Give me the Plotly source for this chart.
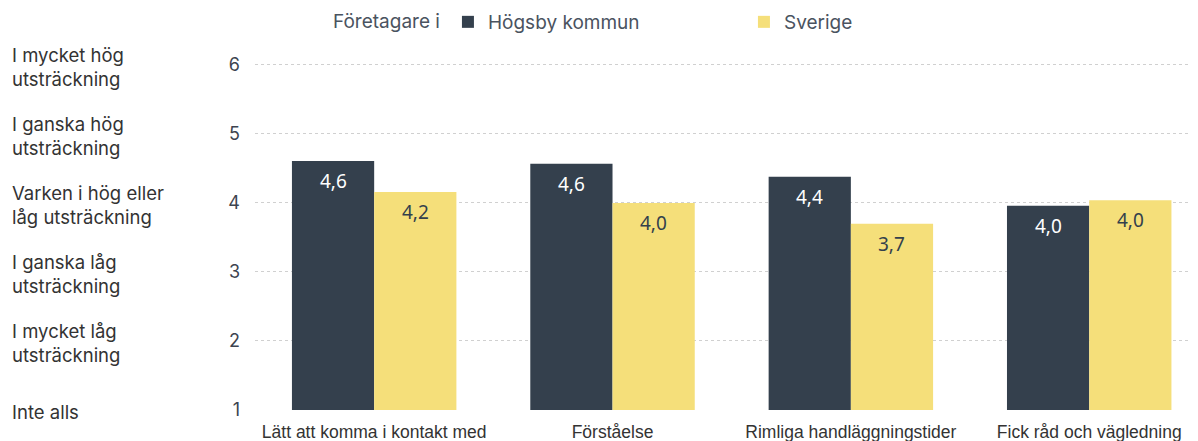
import plotly.graph_objects as go

categories = ["Lätt att komma i kontakt med", "Förståelse", "Rimliga handläggningstider", "Fick råd och vägledning"]
hogsby = [4.61, 4.57, 4.38, 3.96]
sverige = [4.16, 4.0, 3.70, 4.04]
hogsby_labels = ["4,6", "4,6", "4,4", "4,0"]
sverige_labels = ["4,2", "4,0", "3,7", "4,0"]
scale_values = [6, 5, 4, 3, 2, 1]
scale_labels = ["I mycket hög<br>utsträckning", "I ganska hög<br>utsträckning",
                "Varken i hög eller<br>låg utsträckning", "I ganska låg<br>utsträckning",
                "I mycket låg<br>utsträckning", "Inte alls"]

DARK = "#34404d"
YELLOW = "#f5df7a"
W, H = 1198, 441
ML, MR, MT, MB = 247, 0, 42, 39
PW = W - ML - MR

fig = go.Figure()
fig.add_trace(go.Bar(x=categories, y=hogsby, name="Högsby kommun", marker_color=DARK,
                     marker_line_width=0))
fig.add_trace(go.Bar(x=categories, y=sverige, name="Sverige", marker_color=YELLOW,
                     marker_line_width=0))

annotations = []
bargap = 0.31
half = (1 - bargap) / 4
for i, c in enumerate(categories):
    for val, lab, off, col in [(hogsby[i], hogsby_labels[i], -half, "white"),
                                (sverige[i], sverige_labels[i], half, "#333f4c")]:
        annotations.append(dict(x=i + off, y=val, xref="x", yref="y", text=lab,
                                showarrow=False, yshift=-20, yanchor="middle",
                                font=dict(family="Noto Sans", size=19, color=col)))

for v, lab in zip(scale_values, scale_labels):
    annotations.append(dict(x=(2 - ML) / PW, xref="paper", xanchor="left", y=v, yref="y",
                            yshift=-2, text=lab, showarrow=False, align="left",
                            font=dict(family="Inter", size=18.5, color="#333333")))

fig.update_layout(
    width=W, height=H,
    margin=dict(l=ML, r=MR, t=MT, b=MB),
    plot_bgcolor="white", paper_bgcolor="white",
    barmode="group", bargap=bargap, bargroupgap=0,
    showlegend=True,
    legend=dict(orientation="h", xref="container", yref="container",
                x=323 / W, y=1 - 14 / H, xanchor="left", yanchor="middle",
                title=dict(text="Företagare i", font=dict(family="Inter", size=19, color="#4a5360")),
                font=dict(family="Inter", size=19, color="#4a5360"),
                entrywidth=251, traceorder="normal"),
    xaxis=dict(range=[-0.5, 3.49], showgrid=False, zeroline=False, showline=False,
               ticks="", ticklabelstandoff=9,
               tickfont=dict(family="Liberation Sans", size=17.5, color="#333333")),
    yaxis=dict(range=[1, 6.217], tickvals=scale_values, showgrid=True,
               gridcolor="#d0d0d0", griddash="dot", gridwidth=1, zeroline=False,
               showline=False, ticks="", ticklabelstandoff=14,
               tickfont=dict(family="Inter", size=18, color="#3d4450")),
    annotations=annotations,
)
fig.update_yaxes(automargin=False)
fig.update_xaxes(automargin=False)

fig.write_html("out.html")
